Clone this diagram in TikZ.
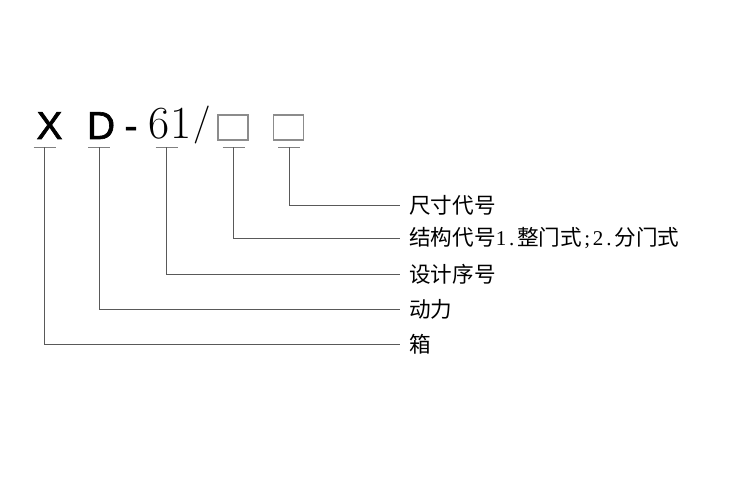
\documentclass[tikz,border=0pt]{standalone}
\usepackage{fontspec}
\newfontfamily\cjk{Noto Sans CJK SC}
\newfontfamily\latserif{Liberation Serif}
\newfontfamily\arialf[FakeBold=1.6]{Liberation Sans}
\newcommand{\hwc}[1]{\makebox[10.8pt][c]{\latserif\fontsize{21}{24}\selectfont #1}}
\begin{document}
\begin{tikzpicture}[x=1pt,y=-1pt,
  ln/.style={draw=black!65,line width=0.9pt},
  tickbar/.style={draw=black!50,line width=1pt},
  boxshape/.style={draw=black!45,line width=1.1pt,minimum width=30pt,minimum height=25pt,inner sep=0pt},
  big/.style={inner sep=0pt,anchor=base,font=\arialf\fontsize{39}{42}\selectfont},
  lab/.style={anchor=west,inner xsep=9pt,inner ysep=0pt,font=\cjk\fontsize{21.6}{24}\selectfont}]
\useasboundingbox (0,0) rectangle (750,500);
% code letters
\node[big] (cX) at (49.5,139) {X};
\node[big] (cD) at (101,139) {D};
\node[big] (cH) at (131,139) {-};
\node[inner sep=0pt,anchor=base west,font=\fontsize{46}{50}\selectfont] (c61) at (148.7,139) {61};
\node[inner sep=0pt,anchor=base,font=\fontsize{38}{42}\selectfont] (cS) at (202,134.5) {/};
\node[boxshape] (b1) at (233,127.5) {};
\node[boxshape] (b2) at (288.5,127.5) {};
% tick bars
\foreach \n/\x in {1/44.5,2/99,3/166.5,4/233.5,5/289}{
  \coordinate (t\n) at (\x,147.5);
  \draw[tickbar] ([xshift=-11pt]t\n) -- ([xshift=11pt]t\n);
}
% labels
\node[lab] (l5) at (400,205.5) {尺寸代号};
\node[lab] (l4) at (400,238) {结构代号\hwc{1}\hwc{.}整门式\hwc{;}\hwc{2}\hwc{.}分门式};
\node[lab] (l3) at (400,274.5) {设计序号};
\node[lab] (l2) at (400,309.5) {动力};
\node[lab] (l1) at (400,344) {箱};
% connectors
\draw[ln] (t5) |- (l5.west);
\draw[ln] (t4) |- (l4.west);
\draw[ln] (t3) |- (l3.west);
\draw[ln] (t2) |- (l2.west);
\draw[ln] (t1) |- (l1.west);
\end{tikzpicture}
\end{document}
